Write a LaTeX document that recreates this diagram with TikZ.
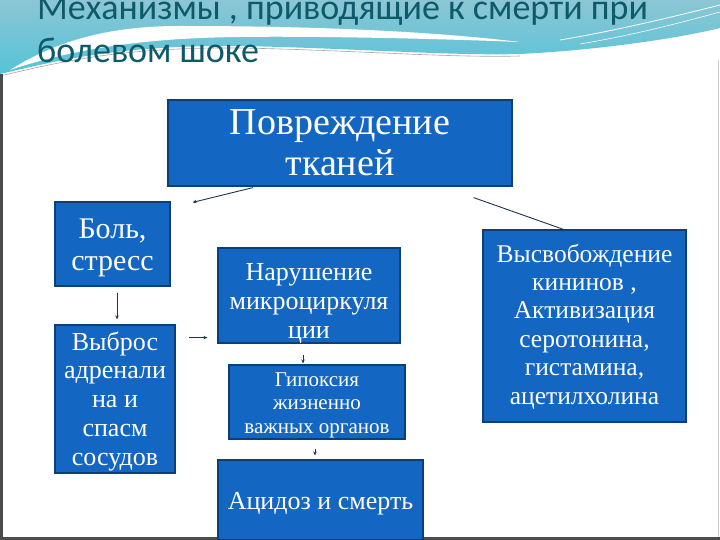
\documentclass[tikz,border=0pt]{standalone}
\usepackage{fontspec}
\setmainfont{Liberation Serif}
\newfontfamily\titlefont{Carlito}
\usetikzlibrary{arrows.meta}
\definecolor{boxblue}{HTML}{1366C2}
\definecolor{boxedge}{HTML}{0C3F78}
\definecolor{titleteal}{HTML}{0F5A6A}
\definecolor{linenavy}{HTML}{1C3554}
\definecolor{tealA}{HTML}{8CC6D4}
\definecolor{tealB}{HTML}{55C3D8}
\newcommand{\bxt}[2]{\raisebox{#1}[0pt][0pt]{\begin{tabular}[t]{@{}c@{}}#2\end{tabular}}}
\begin{document}
\begin{tikzpicture}[x=1pt,y=-1pt,
  box/.style={draw=boxedge,line width=1.2pt,fill=boxblue,text=white,align=center,inner sep=0pt},
  arr/.style={draw=linenavy,line width=0.9pt,-{Stealth[length=4pt,width=3.5pt]}},
  link/.style={draw=linenavy,line width=0.9pt}]
\useasboundingbox (0,0) rectangle (720,540);
\fill[white] (0,0) rectangle (720,540);
% header waves
\shade[top color=tealA,bottom color=tealB]
  (0,0) -- (720,0) -- (720,28)
  .. controls (680,38) and (600,50) .. (520,54)
  .. controls (450,56) and (350,48) .. (240,46)
  .. controls (120,45) and (60,60) .. (0,74) -- cycle;
\fill[white]
  (10,70) .. controls (50,45) and (100,26) .. (180,26)
  .. controls (300,26) and (420,30) .. (520,42)
  .. controls (420,38) and (300,36) .. (240,37)
  .. controls (140,38) and (70,50) .. cycle;
\draw[white,line width=0.8pt] (560,40) .. controls (620,30) and (680,15) .. (720,5);
\draw[white,line width=0.6pt] (580,44) .. controls (640,34) and (690,20) .. (720,12);
\draw[gray!70,line width=0.6pt] (0,76) .. controls (60,62) and (120,47) .. (240,48)
  .. controls (350,50) and (450,58) .. (520,56);
% frame lines
\fill[gray!60!black] (0,74) rectangle (3,540);
\fill[gray!60!black] (0,537) rectangle (720,540);
\draw[gray!40,line width=0.6pt] (718,60) -- (718,537);
% title
\node[anchor=base west,inner sep=0pt,text=titleteal,font=\titlefont\fontsize{36}{36}\selectfont] (t1) at (37,20) {Механизмы , приводящие к смерти при};
\node[anchor=base west,inner sep=0pt,text=titleteal,font=\titlefont\fontsize{36}{36}\selectfont] (t2) at (37,63) {болевом шоке};
% boxes
\node[box,minimum width=344,minimum height=86,font=\fontsize{38}{41}\selectfont] (top) at (340,143) {\bxt{8pt}{Повреждение\\тканей}};
\node[box,minimum width=115,minimum height=84,font=\fontsize{30}{32}\selectfont] (bol) at (112.5,244) {\bxt{6pt}{Боль,\\стресс}};
\node[box,minimum width=120,minimum height=148,font=\fontsize{26}{28.75}\selectfont] (vyb) at (115,399) {\bxt{49pt}{Выброс\\адренали\\на и\\спасм\\сосудов}};
\node[box,minimum width=182,minimum height=95,font=\fontsize{26}{29}\selectfont] (nar) at (309,295.5) {\bxt{15.5pt}{Нарушение\\микроциркуля\\ции}};
\node[box,minimum width=176,minimum height=74,font=\fontsize{21}{23.5}\selectfont] (gip) at (317,402) {\bxt{16pt}{Гипоксия\\жизненно\\важных органов}};
\node[box,minimum width=205,minimum height=80,font=\fontsize{26}{28}\selectfont] (aci) at (320.5,500) {\bxt{-9pt}{Ацидоз и смерть}};
\node[box,minimum width=203,minimum height=192,font=\fontsize{25.5}{28.4}\selectfont] (rgt) at (584.5,326) {\bxt{64pt}{Высвобождение\\кининов ,\\Активизация\\серотонина,\\гистамина,\\ацетилхолина}};
% connectors
\draw[arr] ([xshift=-87pt,yshift=-1pt]top.south) -- ([xshift=22pt,yshift=-1pt]bol.north east);
\draw[link] ([xshift=-39pt,yshift=-11pt]top.south east) -- ([xshift=-21pt]rgt.north);
\draw[arr] ([xshift=4.5pt,yshift=-6pt]bol.south) -- ([xshift=2pt,yshift=5pt]vyb.north);
\draw[arr] ([xshift=-28pt,yshift=6pt]nar.south west) -- ([xshift=-10pt,yshift=6pt]nar.south west);
\draw[arr] ([xshift=-6pt,yshift=-11pt]nar.south) -- ([xshift=-14pt,yshift=1pt]gip.north);
\draw[arr] ([xshift=-2pt,yshift=-9pt]gip.south) -- ([xshift=-5.5pt,yshift=4pt]aci.north);
\end{tikzpicture}
\end{document}
